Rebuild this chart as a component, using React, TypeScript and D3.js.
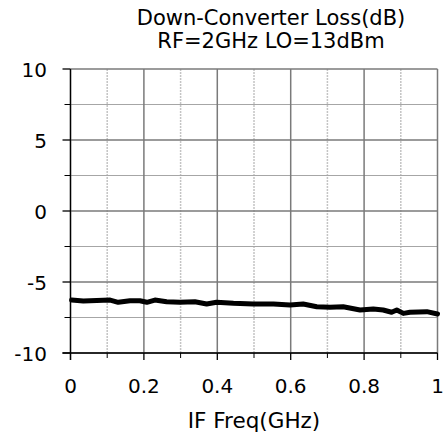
import React from "react";
import * as d3 from "d3";

const freqs = [0.003, 0.035, 0.108, 0.13, 0.162, 0.189, 0.208, 0.23, 0.262, 0.298, 0.339, 0.371, 0.398, 0.444, 0.498, 0.553, 0.598, 0.634, 0.671, 0.707, 0.743, 0.789, 0.825, 0.852, 0.875, 0.889, 0.907, 0.925, 0.971, 1.0];
const loss = [-6.27, -6.34, -6.27, -6.43, -6.32, -6.32, -6.43, -6.27, -6.39, -6.43, -6.39, -6.55, -6.43, -6.5, -6.55, -6.55, -6.62, -6.55, -6.74, -6.78, -6.74, -6.97, -6.9, -6.97, -7.13, -6.97, -7.21, -7.13, -7.09, -7.25];
const xTicks = [0, 0.2, 0.4, 0.6, 0.8, 1];
const xMinor = [0.1, 0.3, 0.5, 0.7, 0.9];
const yTicks = [-10, -5, 0, 5, 10];
const yMinor = [-7.5, -2.5, 2.5, 7.5];
const titleLines = ["Down-Converter Loss(dB)", "RF=2GHz LO=13dBm"];
const xTitle = "IF Freq(GHz)";

const W = 445, H = 434;
const L = 70.5, R = 437.5, T = 69, B = 353;
const FONT = "'DejaVu Sans', sans-serif";

export default function App() {
  const x = d3.scaleLinear().domain([0, 1]).range([L, R]);
  const y = d3.scaleLinear().domain([-10, 10]).range([B, T]);
  const line = d3.line<number>().x((_, i) => x(freqs[i])).y((d) => y(d)).curve(d3.curveLinear);
  return (
    <svg width={W} height={H} style={{ position: "absolute", left: 0, top: 0, background: "#fff" }} fontFamily={FONT}>
      {xMinor.map((v) => (
        <line key={"xm" + v} x1={x(v)} x2={x(v)} y1={T} y2={B} stroke="#c4c4c4" strokeWidth={1.5} strokeDasharray="2,1" />
      ))}
      {yMinor.map((v) => (
        <line key={"ym" + v} x1={L} x2={R} y1={y(v)} y2={y(v)} stroke="#a6a6a6" strokeWidth={1} />
      ))}
      {xTicks.map((v) => (
        <line key={"xg" + v} x1={x(v)} x2={x(v)} y1={T} y2={B} stroke="#7a7a7a" strokeWidth={1.5} />
      ))}
      {yTicks.map((v) => (
        <line key={"yg" + v} x1={L} x2={R} y1={y(v)} y2={y(v)} stroke="#7a7a7a" strokeWidth={1.5} />
      ))}
      <line x1={L} x2={L} y1={T} y2={B + 7} stroke="#000" strokeWidth={1.3} />
      <line x1={L - 8} x2={R} y1={B} y2={B} stroke="#000" strokeWidth={1.3} />
      {yTicks.map((v) => (
        <line key={"yt" + v} x1={L - 8} x2={L} y1={y(v)} y2={y(v)} stroke="#000" strokeWidth={1.3} />
      ))}
      {yMinor.map((v) => (
        <line key={"ymt" + v} x1={L - 6} x2={L} y1={y(v)} y2={y(v)} stroke="#000" strokeWidth={1} />
      ))}
      {xTicks.map((v) => (
        <line key={"xt" + v} x1={x(v)} x2={x(v)} y1={B} y2={B + 7} stroke="#000" strokeWidth={1.3} />
      ))}
      {xMinor.map((v) => (
        <line key={"xmt" + v} x1={x(v)} x2={x(v)} y1={B} y2={B + 5} stroke="#000" strokeWidth={1} />
      ))}
      <path d={line(loss) ?? ""} fill="none" stroke="#000" strokeWidth={5} strokeLinejoin="round" strokeLinecap="round" />
      {yTicks.map((v) => (
        <text key={"yl" + v} x={47} y={y(v) + 7.5} textAnchor="end" fontSize={20} fill="#000">{String(v)}</text>
      ))}
      {xTicks.map((v) => (
        <text key={"xl" + v} x={x(v)} y={393} textAnchor="middle" fontSize={20} fill="#000">{String(v)}</text>
      ))}
      <text x={254} y={428} textAnchor="middle" fontSize={21.5} fill="#000">{xTitle}</text>
      {titleLines.map((t, i) => (
        <text key={t} x={271} y={25 + i * 23} textAnchor="middle" fontSize={21} fill="#000">{t}</text>
      ))}
    </svg>
  );
}
